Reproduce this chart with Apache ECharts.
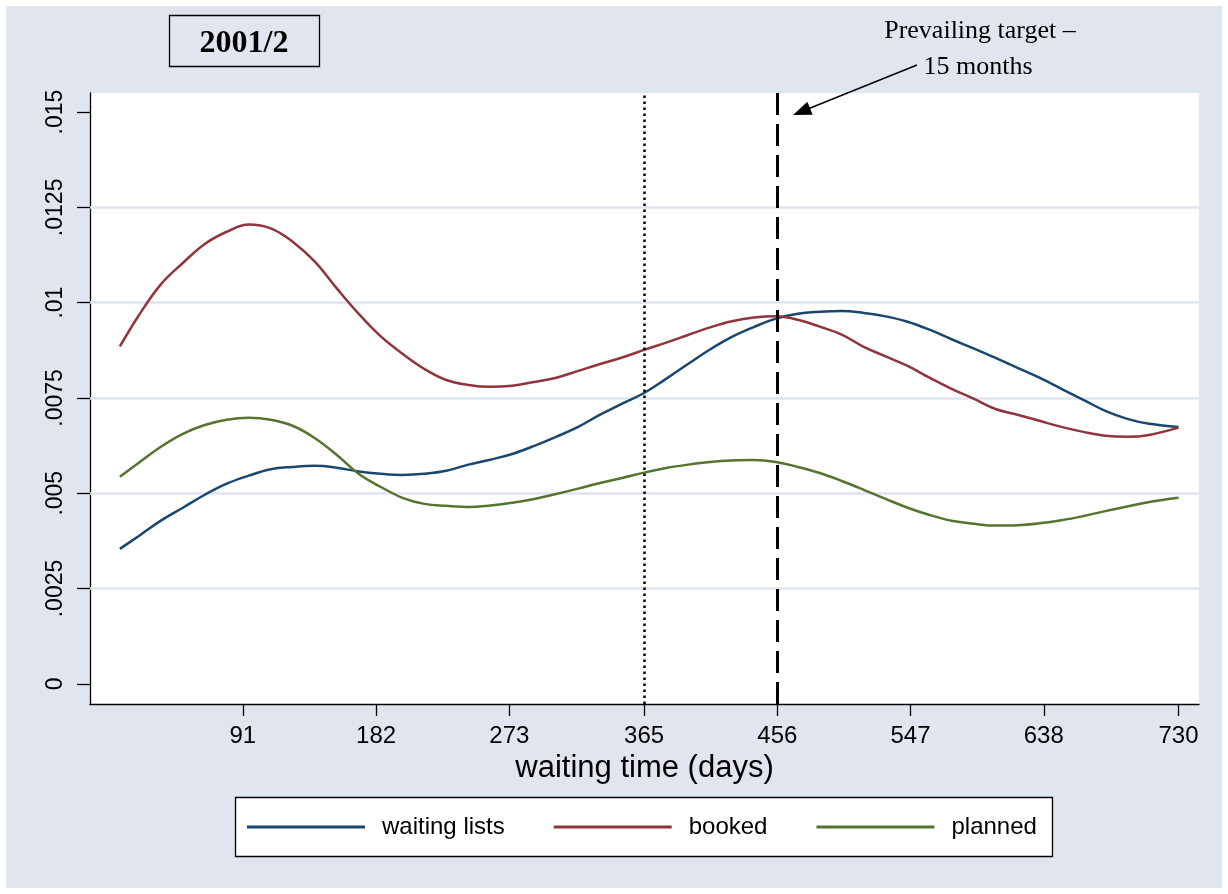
<!DOCTYPE html>
<html>
<head>
<meta charset="utf-8">
<title>2001/2 waiting time</title>
<script src="https://cdn.jsdelivr.net/npm/echarts@6/dist/echarts.min.js"></script>
<style>
  html, body { margin: 0; padding: 0; background: #fff; }
  #main { width: 1228px; height: 894px; }
</style>
</head>
<body>
<div id="main"></div>
<script>
// waiting time in days (x positions of the sampled curves)
var days = [7, 20, 35, 50, 65, 80, 95, 110, 125, 140, 155, 170, 185, 200, 215, 230, 245,
  260, 275, 290, 305, 320, 335, 350, 365, 380, 395, 410, 425, 440, 455, 470, 485, 500,
  515, 530, 545, 560, 575, 590, 605, 620, 635, 650, 665, 680, 695, 710, 730];

var waitingLists = [0.00354, 0.00388, 0.00428, 0.00462, 0.00496, 0.00525, 0.00546, 0.00563,
  0.00569, 0.00572, 0.00567, 0.00557, 0.00551, 0.00548, 0.00551, 0.00559, 0.00575, 0.00588,
  0.00603, 0.00624, 0.00648, 0.00674, 0.00706, 0.00735, 0.00763, 0.00800, 0.00839, 0.00877,
  0.00910, 0.00936, 0.00958, 0.00971, 0.00976, 0.00978, 0.00973, 0.00964, 0.00950, 0.00929,
  0.00904, 0.00880, 0.00855, 0.00829, 0.00803, 0.00774, 0.00745, 0.00716, 0.00695, 0.00682,
  0.00674];

var booked = [0.00885, 0.00967, 0.01048, 0.01104, 0.01154, 0.01186, 0.01205, 0.01195,
  0.01160, 0.01108, 0.01038, 0.00971, 0.00912, 0.00866, 0.00826, 0.00797, 0.00784, 0.00779,
  0.00782, 0.00792, 0.00803, 0.00821, 0.00839, 0.00856, 0.00876, 0.00895, 0.00915, 0.00935,
  0.00951, 0.00961, 0.00964, 0.00955, 0.00937, 0.00916, 0.00884, 0.00859, 0.00834, 0.00803,
  0.00774, 0.00748, 0.00721, 0.00706, 0.00690, 0.00674, 0.00661, 0.00651, 0.00648, 0.00653,
  0.00672];

var planned = [0.00543, 0.00580, 0.00622, 0.00656, 0.00679, 0.00693, 0.00698, 0.00693,
  0.00677, 0.00645, 0.00601, 0.00551, 0.00517, 0.00488, 0.00472, 0.00467, 0.00464, 0.00468,
  0.00475, 0.00485, 0.00498, 0.00512, 0.00527, 0.00540, 0.00554, 0.00566, 0.00575, 0.00582,
  0.00586, 0.00587, 0.00582, 0.00569, 0.00553, 0.00532, 0.00509, 0.00485, 0.00462, 0.00443,
  0.00428, 0.00420, 0.00415, 0.00416, 0.00421, 0.00429, 0.00440, 0.00453, 0.00465, 0.00477,
  0.00488];

// axis ticks
var xTicks = [91, 182, 273, 365, 456, 547, 638, 730];
var yTicks = [0, 0.0025, 0.005, 0.0075, 0.01, 0.0125, 0.015];
var yTickLabels = ['0', '.0025', '.005', '.0075', '.01', '.0125', '.015'];
var gridValues = [0.0025, 0.005, 0.0075, 0.01, 0.0125];
// one year (dotted) and prevailing target of 15 months (dashed)
var oneYear = 365;
var targetDay = 456;

var navy = '#1a476f', maroon = '#90353b', forest = '#55752f';

// densities are plotted in thousandths so ECharts markers keep their precision
var K = 1000;

var chart = echarts.init(document.getElementById('main'), null, { renderer: 'canvas' });

function pairs(vals) {
  return days.map(function (d, i) { return [d, vals[i] * K]; });
}

var sans = 'Liberation Sans, Arial, sans-serif';
var serif = 'Liberation Serif, Times New Roman, serif';

var option = {
  animation: false,
  backgroundColor: '#fff',
  grid: {
    left: 90, right: 29, top: 93, bottom: 190,
    show: true, backgroundColor: '#fff', borderWidth: 0
  },
  xAxis: {
    type: 'value',
    min: -13.4, max: 744,
    name: 'waiting time (days)',
    nameLocation: 'middle',
    nameGap: 44,
    nameTextStyle: { fontFamily: sans, fontSize: 31, color: '#000' },
    axisLine: { show: true, onZero: false, lineStyle: { color: '#000', width: 1.3 } },
    axisTick: { show: true, length: 12, customValues: xTicks, lineStyle: { color: '#000', width: 1.3 } },
    axisLabel: { customValues: xTicks, margin: 20, fontFamily: sans, fontSize: 24, color: '#000' },
    splitLine: { show: false }
  },
  yAxis: {
    type: 'value',
    min: -0.53, max: 15.5,
    axisLine: { show: true, onZero: false, lineStyle: { color: '#000', width: 1.3 } },
    axisTick: { show: true, length: 13, customValues: yTicks.map(function (v) { return v * K; }),
      lineStyle: { color: '#000', width: 1.3 } },
    axisLabel: {
      customValues: yTicks.map(function (v) { return v * K; }), rotate: 90, margin: 23,
      fontFamily: sans, fontSize: 23, color: '#000',
      formatter: function (v) {
        var best = 0;
        yTicks.forEach(function (t, i) {
          if (Math.abs(t * K - v) < Math.abs(yTicks[best] * K - v)) best = i;
        });
        return yTickLabels[best];
      }
    },
    splitLine: { show: false }
  },
  legend: {
    left: 242, top: 810,
    itemWidth: 118, itemHeight: 3, itemGap: 49,
    icon: 'rect',
    textStyle: { fontFamily: sans, fontSize: 24, color: '#000', padding: [0, 0, 0, 12] },
    data: ['waiting lists', 'booked', 'planned'],
    z: 10
  },
  graphic: [
    { type: 'rect', z: -100, silent: true, shape: { x: 6, y: 6, width: 1216, height: 882 },
      style: { fill: '#e0e5f0' } },
    { type: 'rect', z: 1, shape: { x: 235.5, y: 797.5, width: 817, height: 59 },
      style: { fill: '#fff', stroke: '#000', lineWidth: 1.3 } },
    { type: 'rect', z: 1, shape: { x: 169.5, y: 15.5, width: 150, height: 51 },
      style: { fill: 'transparent', stroke: '#000', lineWidth: 1.3 } },
    { type: 'text', z: 2, x: 244, y: 44,
      style: { text: '2001/2', font: 'bold 32px ' + serif, fill: '#000', align: 'center', verticalAlign: 'middle' } },
    { type: 'text', z: 2, x: 980, y: 31,
      style: { text: 'Prevailing target \u2013', font: '26px ' + serif, fill: '#000', align: 'center', verticalAlign: 'middle' } },
    { type: 'text', z: 2, x: 978, y: 67,
      style: { text: '15 months', font: '26px ' + serif, fill: '#000', align: 'center', verticalAlign: 'middle' } },
    { type: 'line', z: 2, shape: { x1: 917, y1: 65, x2: 809, y2: 108.5 },
      style: { stroke: '#000', lineWidth: 1.5 } },
    { type: 'polygon', z: 2, shape: { points: [[793, 115], [812.6, 114.7], [807.4, 101.7]] },
      style: { fill: '#000' } }
  ],
  series: [
    {
      name: 'waiting lists', type: 'line', data: pairs(waitingLists), z: 2,
      showSymbol: false, symbol: 'none', smooth: 0.4,
      itemStyle: { color: navy },
      lineStyle: { width: 2.5, color: navy },
      markLine: {
        silent: true, symbol: 'none', label: { show: false }, z: 1,
        lineStyle: { color: '#dfe4ef', width: 2.5, type: 'solid' },
        data: gridValues.map(function (v) { return { yAxis: v * K }; })
      }
    },
    {
      name: 'booked', type: 'line', data: pairs(booked), z: 3,
      showSymbol: false, symbol: 'none', smooth: 0.4,
      itemStyle: { color: maroon },
      lineStyle: { width: 2.5, color: maroon }
    },
    {
      name: 'planned', type: 'line', data: pairs(planned), z: 3,
      showSymbol: false, symbol: 'none', smooth: 0.4,
      itemStyle: { color: forest },
      lineStyle: { width: 2.5, color: forest },
      markLine: {
        silent: true, symbol: 'none', label: { show: false },
        data: [
          { xAxis: oneYear, lineStyle: { color: '#000', width: 2.5, type: [2.5, 3.5] } },
          { xAxis: targetDay, lineStyle: { color: '#000', width: 3, type: [22, 9] } }
        ]
      }
    }
  ]
};

chart.setOption(option);
</script>
</body>
</html>
